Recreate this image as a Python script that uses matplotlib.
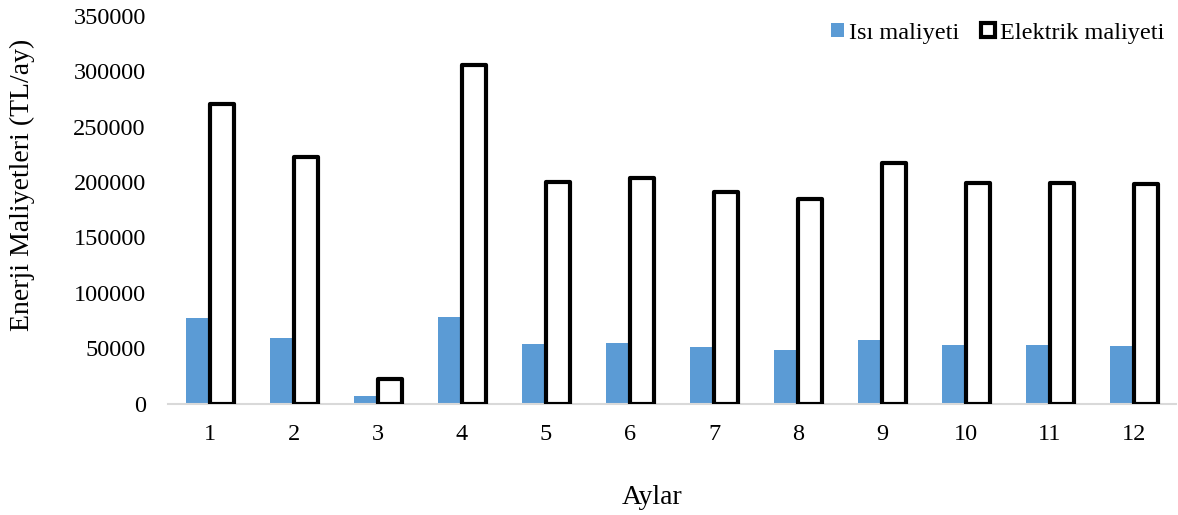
import matplotlib
matplotlib.use("Agg")
import matplotlib.pyplot as plt
import numpy as np
from matplotlib.patches import Patch

months = ["1", "2", "3", "4", "5", "6", "7", "8", "9", "10", "11", "12"]
isi = [77400, 59300, 7200, 77800, 53800, 55000, 50800, 48700, 57200, 52800, 52800, 52300]
elektrik = [270500, 222500, 22100, 306000, 200300, 204000, 191200, 185000, 217000, 199600, 199500, 198400]
yticks = [0, 50000, 100000, 150000, 200000, 250000, 300000, 350000]

plt.rcParams['font.family'] = ['Liberation Serif', 'DejaVu Serif']

fig = plt.figure(figsize=(11.78, 5.15), dpi=100)
ax = fig.add_axes([168/1178, 1 - 403.5/515, (1176-168)/1178, (403.5-16)/515])

x = np.arange(len(months))
w = 0.28
ax.bar(x - w/2, isi, width=w, color='#5B9BD5', zorder=2)
ax.bar(x + w/2, elektrik, width=w, facecolor='white', edgecolor='black',
       linewidth=3.0, joinstyle='round', zorder=3)

ax.set_xlim(-0.5, len(months) - 0.5)
ax.set_ylim(0, 350000)
ax.set_yticks(yticks)
ax.set_yticklabels([str(v) for v in yticks], fontsize=17.5)
ax.set_xticks(x)
ax.set_xticklabels(months, fontsize=17.5)
ax.tick_params(length=0)
ax.tick_params(axis='x', pad=15)
ax.tick_params(axis='y', pad=16)
for s in ['top', 'right', 'left']:
    ax.spines[s].set_visible(False)
ax.spines['bottom'].set_color('#d9d9d9')
ax.spines['bottom'].set_linewidth(1.5)

fig.text(22/1178, 1 - 185/515, "Enerji Maliyetleri (TL/ay)", rotation=90,
         fontsize=20, ha='center', va='center')
fig.text(652/1178, 1 - 497/515, "Aylar", fontsize=20, ha='center', va='center')

handles = [Patch(facecolor='#5B9BD5', edgecolor='none', label='Isı maliyeti'),
           Patch(facecolor='white', edgecolor='black', linewidth=3.0, label='Elektrik maliyeti')]
leg = fig.legend(handles=handles, loc='center right', bbox_to_anchor=(1164/1178, 1 - 33/515),
                 ncol=2, frameon=False, fontsize=17.5, handlelength=0.55, handleheight=0.55,
                 handletextpad=0.2, columnspacing=0.9, borderaxespad=0, borderpad=0)

fig.savefig("out.png", dpi=100)
